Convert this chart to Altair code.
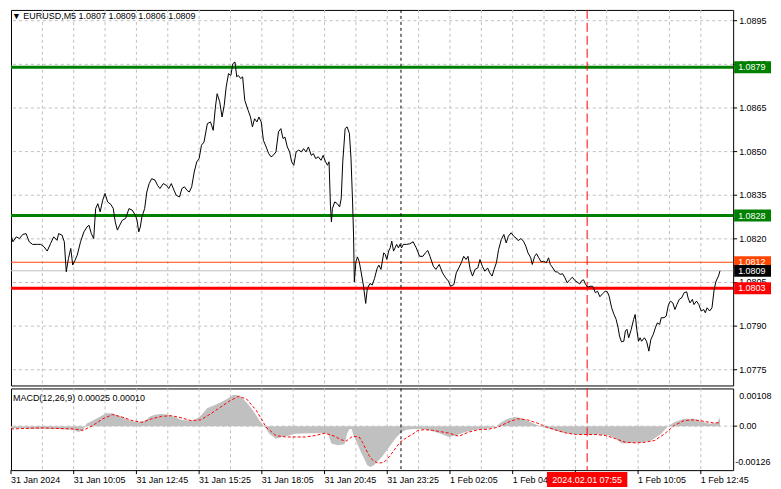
import altair as alt
import pandas as pd

# ---------------- data ----------------
# bar index (5-minute bars from 31 Jan 07:25) and close price
price_bar = [0, 1.0, 2.7, 4.3, 6.0, 7.7, 9.3, 11.0, 13.5, 15.2, 16.8, 18.5, 20.2, 21.8, 23.5, 24.3, 26.0, 27.2,
             28.2, 29.3, 30.5, 31.5, 32.7, 33.8, 35.5, 37.2, 38.8, 39.8, 41.0, 42.2, 43.2, 44.3, 45.5, 46.8, 48.0,
             49.3, 51.0, 52.2, 53.2, 54.3, 55.5, 56.8, 58.5, 60.2, 61.8, 63.5, 64.3, 65.2, 66.0, 66.8, 68.2, 69.3,
             70.5, 71.8, 73.5, 74.8, 76.0, 77.7, 79.3, 80.5, 81.8, 83.2, 84.3, 86.0, 87.2, 88.5, 89.8, 91.0, 92.2,
             93.5, 94.8, 96.0, 97.2, 98.5, 100.2, 101.8, 103.2, 104.3, 105.2, 106.5, 107.7, 108.8, 109.8, 111.0,
             112.2, 113.2, 114.3, 115.2, 116.0, 117.2, 118.2, 119.3, 121.0, 122.2, 123.2, 124.3, 125.5, 126.5,
             127.7, 128.8, 130.2, 131.5, 132.7, 133.8, 135.2, 136.5, 137.7, 138.8, 139.8, 141.0, 142.2, 143.2,
             144.3, 145.5, 146.8, 148.2, 149.3, 150.5, 151.8, 153.2, 154.3, 155.5, 156.8, 158.2, 159.3, 160.5,
             161.5, 162.3, 163.0, 163.5, 164.0, 165.2, 166.5, 167.7, 168.5, 169.3, 170.5, 171.5, 172.7, 173.5,
             174.3, 174.8, 175.2, 176.0, 176.8, 177.7, 178.5, 179.8, 181.0, 181.8, 183.2, 184.3, 185.5, 186.8,
             187.7, 188.8, 190.2, 191.0, 191.8, 192.7, 193.5, 194.3, 195.2, 196.0, 196.8, 197.7, 198.5, 199.3,
             200.2, 201.8, 203.5, 205.2, 206.8, 208.5, 210.2, 211.5, 212.7, 213.8, 215.5, 216.8, 218.5, 220.2,
             221.8, 223.2, 224.3, 226.0, 227.2, 228.5, 229.8, 231.0, 232.2, 233.2, 234.3, 235.5, 236.8, 238.2,
             239.3, 240.5, 241.8, 243.2, 244.3, 245.5, 246.5, 247.7, 248.8, 250.2, 251.5, 252.7, 253.8, 255.2,
             256.5, 257.7, 258.8, 260.2, 261.5, 262.7, 263.8, 265.2, 266.0, 267.2, 268.2, 269.3, 270.5, 271.8,
             273.2, 274.3, 275.2, 276.5, 277.7, 278.8, 280.2, 281.5, 282.7, 283.8, 285.2, 286.5, 287.7, 288.8,
             290.2, 291.3, 292.2, 293.2, 294.3, 295.5, 296.8, 298.2, 299.3, 300.5, 301.8, 303.2, 304.3, 305.2,
             306.5, 307.7, 308.8, 309.8, 310.5, 311.5, 312.7, 313.5, 314.3, 315.2, 316.5, 317.7, 318.5, 319.3,
             320.2, 321.0, 321.8, 323.2, 324.3, 325.5, 326.5, 327.7, 328.8, 329.8, 331.0, 331.8, 333.2, 334.3,
             335.5, 336.5, 337.7, 338.8, 339.8, 341.0, 342.2, 343.5, 344.8, 345.5, 346.5, 347.7, 348.5, 349.8,
             351.0, 352.2, 353.5, 354.3, 355.2, 356.5, 357.7, 358.8, 359.8, 361.0, 361.8]
price_val = [1.08213, 1.08190, 1.08207, 1.08201, 1.08215, 1.08218, 1.08190, 1.08181, 1.08181, 1.08181, 1.08173,
             1.08158, 1.08184, 1.08207, 1.08195, 1.08218, 1.08213, 1.08190, 1.08087, 1.08132, 1.08167, 1.08110,
             1.08127, 1.08144, 1.08190, 1.08224, 1.08241, 1.08247, 1.08218, 1.08201, 1.08304, 1.08321, 1.08293,
             1.08333, 1.08356, 1.08327, 1.08318, 1.08304, 1.08258, 1.08230, 1.08247, 1.08264, 1.08270, 1.08304,
             1.08299, 1.08281, 1.08264, 1.08224, 1.08241, 1.08276, 1.08304, 1.08361, 1.08390, 1.08407, 1.08402,
             1.08384, 1.08373, 1.08390, 1.08384, 1.08373, 1.08390, 1.08367, 1.08350, 1.08344, 1.08373, 1.08379,
             1.08367, 1.08361, 1.08379, 1.08430, 1.08465, 1.08476, 1.08522, 1.08533, 1.08596, 1.08602, 1.08573,
             1.08653, 1.08699, 1.08671, 1.08619, 1.08659, 1.08722, 1.08768, 1.08762, 1.08802, 1.08808, 1.08757,
             1.08762, 1.08751, 1.08757, 1.08676, 1.08642, 1.08619, 1.08585, 1.08613, 1.08602, 1.08619, 1.08602,
             1.08539, 1.08516, 1.08493, 1.08482, 1.08487, 1.08499, 1.08568, 1.08579, 1.08545, 1.08550, 1.08516,
             1.08499, 1.08465, 1.08453, 1.08499, 1.08505, 1.08499, 1.08510, 1.08499, 1.08516, 1.08487, 1.08493,
             1.08476, 1.08482, 1.08470, 1.08487, 1.08465, 1.08453, 1.08465, 1.08316, 1.08258, 1.08304, 1.08327,
             1.08321, 1.08310, 1.08339, 1.08465, 1.08579, 1.08585, 1.08562, 1.08476, 1.08327, 1.08213, 1.08052,
             1.08121, 1.08138, 1.08121, 1.08092, 1.08041, 1.07978, 1.08029, 1.08047, 1.08041, 1.08064, 1.08098,
             1.08110, 1.08095, 1.08152, 1.08146, 1.08129, 1.08158, 1.08169, 1.08192, 1.08158, 1.08169, 1.08181,
             1.08169, 1.08181, 1.08169, 1.08181, 1.08181, 1.08183, 1.08190, 1.08169, 1.08140, 1.08140, 1.08152,
             1.08160, 1.08140, 1.08106, 1.08095, 1.08112, 1.08083, 1.08066, 1.08055, 1.08037, 1.08043, 1.08083,
             1.08100, 1.08118, 1.08140, 1.08129, 1.08140, 1.08095, 1.08072, 1.08095, 1.08100, 1.08129, 1.08106,
             1.08089, 1.08100, 1.08083, 1.08072, 1.08095, 1.08118, 1.08163, 1.08198, 1.08215, 1.08186, 1.08209,
             1.08221, 1.08209, 1.08203, 1.08194, 1.08201, 1.08192, 1.08175, 1.08152, 1.08135, 1.08112, 1.08140,
             1.08149, 1.08135, 1.08121, 1.08123, 1.08118, 1.08135, 1.08112, 1.08100, 1.08087, 1.08086, 1.08078,
             1.08080, 1.08066, 1.08049, 1.08060, 1.08068, 1.08057, 1.08052, 1.08045, 1.08057, 1.08059, 1.08043,
             1.08034, 1.08037, 1.08037, 1.08015, 1.08020, 1.08001, 1.08011, 1.08020, 1.08018, 1.08003, 1.07963,
             1.07940, 1.07923, 1.07894, 1.07866, 1.07846, 1.07848, 1.07883, 1.07889, 1.07860, 1.07889, 1.07923,
             1.07940, 1.07889, 1.07848, 1.07860, 1.07848, 1.07860, 1.07848, 1.07814, 1.07854, 1.07871, 1.07894,
             1.07911, 1.07906, 1.07929, 1.07929, 1.07934, 1.07974, 1.07986, 1.07980, 1.07957, 1.07974, 1.07992,
             1.07997, 1.08015, 1.08018, 1.07997, 1.07980, 1.07992, 1.07974, 1.07986, 1.07974, 1.07952, 1.07957,
             1.07946, 1.07963, 1.07952, 1.07963, 1.08026, 1.08055, 1.08072, 1.08090]

macd_bar = [0, 13.5, 23.5, 31.8, 34.3, 36.8, 38.5, 41.8, 45.2, 48.5, 51.8, 55.2, 58.5, 61.8, 65.2, 68.5, 71.0,
            73.5, 76.8, 80.2, 83.5, 86.8, 90.2, 93.5, 96.8, 100.2, 103.5, 106.8, 110.2, 113.5, 116.8, 120.2,
            123.5, 126.8, 129.3, 131.8, 135.2, 138.5, 141.8, 145.2, 151.8, 158.5, 161.8, 163.5, 166.8, 170.2,
            171.5, 172.7, 173.8, 174.8, 176.0, 178.5, 180.2, 181.8, 183.5, 185.2, 186.8, 189.3, 191.8, 194.3,
            196.8, 199.3, 201.8, 205.2, 208.5, 213.5, 218.5, 223.5, 226.8, 231.8, 236.8, 241.8, 246.8, 250.2,
            253.5, 256.8, 260.2, 265.2, 270.2, 275.2, 280.2, 285.2, 290.2, 295.2, 300.2, 305.2, 308.5, 311.8,
            316.8, 321.8, 326.8, 331.8, 335.2, 338.5, 343.5, 348.5, 353.5, 356.8, 360.2, 361.8]
macd_hist = [-0.00005, -0.00008, -0.00008, -0.0001, -0.00017, -0.00012, 0.00007, 0.00016, 0.00026, 0.00037,
             0.00037, 0.0003, 0.00021, 0.00014, 0.00011, 0.00016, 0.00028, 0.00033, 0.00035, 0.00033, 0.00026,
             0.00018, 0.00016, 0.00016, 0.0003, 0.00052, 0.00059, 0.00068, 0.00078, 0.0009, 0.00087, 0.00068,
             0.00045, 0.00016, 0.0, -0.00022, -0.00036, -0.00031, -0.00027, -0.00022, -0.0002, -0.0002,
             -0.00022, -0.0005, -0.00055, -0.00052, -0.00022, -0.00008, -0.00008, -0.00027, -0.00041, -0.00074,
             -0.00093, -0.00112, -0.00117, -0.00112, -0.00103, -0.00088, -0.00069, -0.0005, -0.00031, -0.00017,
             -0.0001, -0.00008, -0.00008, -0.00012, -0.0002, -0.00031, -0.00027, -0.00017, -0.0001, -0.00008,
             -0.00003, 0.00011, 0.00021, 0.00026, 0.00024, 0.00011, -0.00001, -0.00008, -0.00017, -0.00022,
             -0.00024, -0.00024, -0.00024, -0.00027, -0.00036, -0.0005, -0.00048, -0.00046, -0.00041, -0.00022,
             0.0, 0.00011, 0.00021, 0.00021, 0.00011, 0.00007, 0.00009, 0.00025]

signal_bar = [0, 15.2, 31.8, 36.8, 41.8, 46.8, 51.8, 56.8, 61.8, 66.8, 71.8, 76.8, 81.8, 86.8, 91.8, 96.8,
              101.8, 106.8, 111.8, 116.0, 120.2, 125.2, 130.2, 135.2, 140.2, 145.2, 150.2, 155.2, 160.2, 165.2,
              168.5, 171.0, 174.3, 177.7, 179.3, 181.0, 182.7, 184.3, 186.8, 189.3, 191.0, 193.5, 196.0, 198.5,
              201.8, 205.2, 207.7, 211.0, 215.2, 223.5, 228.5, 233.5, 238.5, 243.5, 248.5, 253.5, 258.5, 263.5,
              268.5, 273.5, 278.5, 283.5, 288.5, 293.5, 298.5, 303.5, 308.5, 313.5, 318.5, 323.5, 328.5, 333.5,
              338.5, 343.5, 348.5, 353.5, 358.5, 361.8]
signal_val = [-0.00008, -0.00005, -0.00008, -0.00012, 0.00002, 0.00021, 0.00033, 0.00026, 0.00016, 0.00011,
              0.00021, 0.00028, 0.0003, 0.00024, 0.00016, 0.00018, 0.00035, 0.00054, 0.00073, 0.00085, 0.00078,
              0.00045, -0.00003, -0.00027, -0.00031, -0.00031, -0.00031, -0.00027, -0.0002, -0.00029, -0.00039,
              -0.00043, -0.00029, -0.00031, -0.00046, -0.00065, -0.00084, -0.00096, -0.00105, -0.00105, -0.001,
              -0.00084, -0.00065, -0.00046, -0.00033, -0.00022, -0.00012, -0.0001, -0.00012, -0.0002, -0.00029,
              -0.00017, -0.0001, -0.00009, -0.00003, 0.00011, 0.00021, 0.00018, 0.00009, -0.00003, -0.00012,
              -0.0002, -0.00024, -0.00024, -0.00024, -0.00027, -0.00036, -0.00046, -0.00048, -0.00046, -0.00041,
              -0.00022, 0.00002, 0.00016, 0.00018, 0.00014, 0.00009, 0.0001]

grid_prices = [1.0775, 1.0790, 1.0805, 1.0820, 1.0835, 1.0850, 1.0865, 1.0880, 1.0895]
level_prices = [1.0879, 1.0828, 1.0812, 1.0809, 1.0803]
level_colors = ["#008000", "#008000", "#FF4500", "#C0C0C0", "#FF0000"]
level_thick = [1.5, 1.5, 0.5, 0.5, 1.5]          # half line thickness in px
box_colors = ["#008000", "#008000", "#FF4500", "#000000", "#FF0000"]
macd_ticks = [0.00108, 0.0, -0.00126]
macd_tick_labels = ["0.00108", "0.00", "-0.00126"]
time_tick_bars = [0, 32, 64, 96, 128, 160, 192, 224, 256, 288, 320, 352]
time_labels = ["31 Jan 2024", "31 Jan 10:05", "31 Jan 12:45", "31 Jan 15:25", "31 Jan 18:05", "31 Jan 20:45",
               "31 Jan 23:25", "1 Feb 02:05", "1 Feb 04:45", "1 Feb 07:25", "1 Feb 10:05", "1 Feb 12:45"]
grid_bars = list(range(16, 366, 16))
day_sep_bar = 199
cursor_bar = 294
cursor_label = "2024.02.01 07:55"
title_text = "▼  EURUSD,M5  1.0807 1.0809 1.0806 1.0809"
macd_text = "MACD(12,26,9) 0.00025 0.00010"

# ---------------- layout ----------------
W = 725
H1 = 377
H2 = 82
FONT = "Liberation Sans"
FS = 9
GRID = "#C0C0C0"

xscale = alt.Scale(domain=[0, 368.5], nice=False, zero=False)
pscale = alt.Scale(domain=[1.07696, 1.08987], nice=False, zero=False)
mscale = alt.Scale(domain=[-0.00126, 0.00108], nice=False, zero=False)

price_df = pd.DataFrame({"bar": price_bar, "price": price_val})
hgrid_df = pd.DataFrame({"price": grid_prices, "label": [f"{p:.4f}" for p in grid_prices]})
vgrid_df = pd.DataFrame({"bar": grid_bars})
level_df = pd.DataFrame({"price": level_prices, "color": level_colors, "box": box_colors,
                         "label": [f"{p:.4f}" for p in level_prices]})
vline_df = pd.DataFrame({"bar": [day_sep_bar]})
cursor_df = pd.DataFrame({"bar": [cursor_bar], "label": [cursor_label],
                          "b1": [cursor_bar - 20.5], "b2": [cursor_bar + 20.5]})
hist_df = pd.DataFrame({"bar": macd_bar, "v": macd_hist})
sig_df = pd.DataFrame({"bar": signal_bar, "v": signal_val})
time_df = pd.DataFrame({"bar": time_tick_bars, "label": time_labels})
mtick_df = pd.DataFrame({"v": macd_ticks, "label": macd_tick_labels})

X = lambda: alt.X("bar:Q", scale=xscale, axis=None)
P = lambda f="price": alt.Y(f"{f}:Q", scale=pscale, axis=None)
M = lambda: alt.Y("v:Q", scale=mscale, axis=None)

def txt(df, **kw):
    base = dict(font=FONT, fontSize=FS, color="#000000", align="left", baseline="middle")
    base.update(kw)
    return alt.Chart(df).mark_text(**base)

# ---- main price panel ----
hgrid = alt.Chart(hgrid_df).mark_rule(color=GRID, strokeDash=[3, 3], strokeWidth=1).encode(y=P())
vgrid = alt.Chart(vgrid_df).mark_rule(color=GRID, strokeDash=[3, 3], strokeWidth=1).encode(x=X())
ptick = alt.Chart(hgrid_df).mark_rule(color="#000000", strokeWidth=1).encode(
    y=P(), x=alt.value(W), x2=alt.value(W + 4))
plabel = txt(hgrid_df).encode(y=P(), x=alt.value(W + 6), text="label:N")
layers = []
for p, c, t in zip(level_prices, level_colors, level_thick):
    d = pd.DataFrame({"price": [p]})
    layers.append(alt.Chart(d).mark_rect(color=c, yOffset=-t, y2Offset=t).encode(
        y=P(), y2="price:Q", x=alt.value(0), x2=alt.value(W)))
daysep = alt.Chart(vline_df).mark_rule(color="#000000", strokeDash=[3, 3], strokeWidth=1).encode(x=X())
cursor = alt.Chart(cursor_df).mark_rule(color="#FF0000", strokeDash=[9, 4], strokeWidth=1).encode(x=X())
line = alt.Chart(price_df).mark_line(color="#000000", strokeWidth=1, clip=True).encode(x=X(), y=P())
boxes = alt.Chart(level_df).mark_rect(yOffset=-6, y2Offset=6).encode(
    y=P(), y2="price:Q", x=alt.value(W + 1), x2=alt.value(W + 38), color=alt.Color("box:N", scale=None))
box_text = txt(level_df, color="#FFFFFF").encode(y=P(), x=alt.value(W + 5), text="label:N")
title = txt(pd.DataFrame({"t": [title_text]})).encode(x=alt.value(1), y=alt.value(6), text="t:N")

main = alt.layer(hgrid, vgrid, ptick, plabel, *layers, daysep, cursor, line, boxes, box_text,
                 title).properties(width=W, height=H1)

# ---- MACD panel ----
mvgrid = alt.Chart(vgrid_df).mark_rule(color=GRID, strokeDash=[3, 3], strokeWidth=1).encode(x=X())
zero = alt.Chart(pd.DataFrame({"v": [0.0]})).mark_rule(color=GRID, strokeDash=[3, 3]).encode(y=M())
hist = alt.Chart(hist_df).mark_area(color="#C0C0C0", opacity=1).encode(x=X(), y=M())
sig = alt.Chart(sig_df).mark_line(color="#FF0000", strokeDash=[3, 2], strokeWidth=1).encode(x=X(), y=M())
mdaysep = alt.Chart(vline_df).mark_rule(color="#000000", strokeDash=[3, 3], strokeWidth=1).encode(x=X())
mcursor = alt.Chart(cursor_df).mark_rule(color="#FF0000", strokeDash=[9, 4], strokeWidth=1).encode(x=X())
mtick = alt.Chart(mtick_df.iloc[[1]]).mark_rule(color="#000000").encode(
    y=M(), x=alt.value(W), x2=alt.value(W + 4))
ml_top = txt(mtick_df.iloc[[0]], baseline="top", dy=4).encode(y=M(), x=alt.value(W + 6), text="label:N")
ml_mid = txt(mtick_df.iloc[[1]]).encode(y=M(), x=alt.value(W + 6), text="label:N")
ml_bot = txt(mtick_df.iloc[[2]], baseline="bottom", dy=-3).encode(y=M(), x=alt.value(W + 2), text="label:N")
ttick = alt.Chart(time_df).mark_rule(color="#000000").encode(x=X(), y=alt.value(H2), y2=alt.value(H2 + 4))
tlabel = txt(time_df).encode(x=X(), y=alt.value(H2 + 10), text="label:N")
cbox = alt.Chart(cursor_df).mark_rect(color="#FF0000").encode(
    x=alt.X("b1:Q", scale=xscale, axis=None), x2="b2:Q", y=alt.value(H2 + 2), y2=alt.value(H2 + 17))
ctext = txt(cursor_df, align="center", color="#FFFFFF").encode(x=X(), y=alt.value(H2 + 10), text="label:N")
mtitle = txt(pd.DataFrame({"t": [macd_text]})).encode(x=alt.value(2), y=alt.value(10), text="t:N")

macd = alt.layer(mvgrid, zero, hist, sig, mdaysep, mcursor, mtick, ml_top, ml_mid, ml_bot, ttick, tlabel,
                 cbox, ctext, mtitle).properties(width=W, height=H2)

chart = alt.vconcat(main, macd, spacing=1, padding=0, background="#FFFFFF").configure_view(
    stroke="#000000", strokeWidth=1)

chart.save("out.html", embed_options={"renderer": "svg", "actions": False})
